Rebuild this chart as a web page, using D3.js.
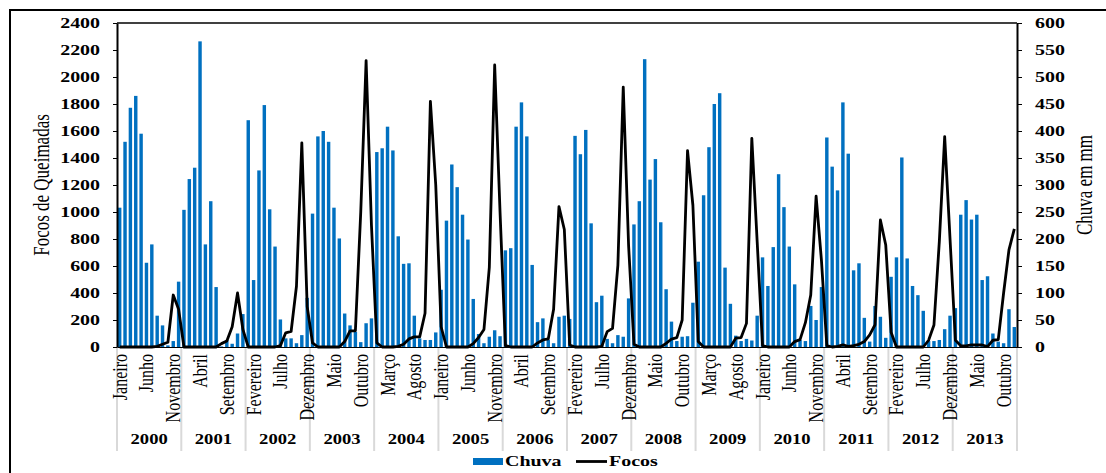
<!DOCTYPE html>
<html><head><meta charset="utf-8">
<script src="https://cdn.jsdelivr.net/npm/d3@7/dist/d3.min.js"></script>
<style>body{margin:0;background:#fff}svg{display:block}</style>
</head><body>
<svg id="chart" width="1106" height="473"></svg>
<script>
const years = [2000,2001,2002,2003,2004,2005,2006,2007,2008,2009,2010,2011,2012,2013];
const monthNames = ["Janeiro","Fevereiro","Março","Abril","Maio","Junho","Julho","Agosto","Setembro","Outubro","Novembro","Dezembro"];
const leftTicks = [0,200,400,600,800,1000,1200,1400,1600,1800,2000,2200,2400];
const rightTicks = [0,50,100,150,200,250,300,350,400,450,500,550,600];
// Chuva (mm), monthly Jan..Dec per year
const chuva = [
  258,380,443,465,395,156,190,58,40,3,11,121,      // 2000
  254,311,332,566,190,270,111,1,13,6,25,61,        // 2001
  420,124,327,448,255,186,51,16,16,7,22,91,        // 2002
  247,390,400,380,258,201,62,40,28,9,44,53,        // 2003
  361,368,408,364,205,154,155,58,16,13,13,27,      // 2004
  106,234,338,296,245,199,89,24,7,19,31,20,        // 2005
  179,183,408,453,390,152,46,53,13,7,56,58,        // 2006
  52,391,357,402,229,83,95,15,7,22,19,90,          // 2007
  227,270,533,310,348,231,107,47,11,19,20,82,      // 2008
  158,281,370,450,470,147,80,21,11,15,12,58,       // 2009
  166,113,185,320,259,186,116,13,11,76,50,111,     // 2010
  388,334,290,453,358,142,155,54,10,76,56,17,      // 2011
  130,166,351,164,113,96,67,11,11,13,33,58,        // 2012
  72,245,272,236,245,124,131,25,10,7,70,37         // 2013
];
// Focos de queimadas, monthly Jan..Dec per year
const focos = [
  0,0,0,0,0,0,0,5,20,35,385,280,                   // 2000
  0,0,0,0,0,0,0,25,45,150,400,130,                 // 2001
  0,0,0,0,0,0,10,105,115,450,1512,300,             // 2002
  30,0,0,0,0,0,40,120,120,1000,2121,900,           // 2003
  30,0,0,0,5,20,60,75,75,250,1820,1200,            // 2004
  150,0,0,0,0,0,25,70,130,590,2089,1000,           // 2005
  10,0,0,0,0,0,30,52,60,280,1040,870,              // 2006
  15,0,0,0,0,0,5,114,138,607,1925,750,             // 2007
  20,0,0,0,0,0,27,59,69,200,1455,1050,             // 2008
  40,0,0,0,0,0,0,65,70,175,1546,780,               // 2009
  10,0,0,0,0,0,40,55,180,385,1118,640,             // 2010
  10,0,5,15,5,10,20,40,90,165,941,755,             // 2011
  110,0,0,0,0,0,0,50,163,780,1558,800,             // 2012
  50,10,8,15,15,15,3,50,55,400,720,875             // 2013
];

const FONT = "'Liberation Serif','Times New Roman',serif";
const SX = 1.33; // horizontal stretch of the original picture's text
const svg = d3.select("#chart");

// outer frame
svg.append("rect").attr("x",10).attr("y",10).attr("width",1130).attr("height",520)
  .attr("fill","none").attr("stroke","#000").attr("stroke-width",2);

const L = 117, R = 1017, T = 23, B = 347;
const idx = d3.range(chuva.length);
const x = d3.scaleBand().domain(idx).range([L,R]).paddingInner(0.36).paddingOuter(0.18);
const yL = d3.scaleLinear().domain([0,2400]).range([B,T]);
const yR = d3.scaleLinear().domain([0,600]).range([B,T]);

// bars
svg.append("g").selectAll("rect").data(idx).join("rect")
  .attr("x", i => x(i)).attr("width", x.bandwidth())
  .attr("y", i => yR(chuva[i])).attr("height", i => B - yR(chuva[i]))
  .attr("fill","#0070C0");

// year separators + labels
const step = x.step();
const gY = svg.append("g");
d3.range(years.length+1).forEach(k => {
  const bx = L + k*12*step;
  gY.append("line").attr("x1",bx).attr("x2",bx).attr("y1",B).attr("y2",451)
    .attr("stroke","#d9d9d9").attr("stroke-width",2);
});
years.forEach((yr,k) => {
  const cx = L + (k*12+6)*step;
  gY.append("text").attr("transform",`translate(${cx},444) scale(${SX},1)`)
    .attr("text-anchor","middle").attr("font-family",FONT).attr("font-weight","bold")
    .attr("font-size",14).text(yr);
});

// line
const line = d3.line().x(i => x(i)+x.bandwidth()/2).y(i => yL(focos[i]));
svg.append("path").datum(idx).attr("d",line).attr("fill","none")
  .attr("stroke","#000").attr("stroke-width",2.8).attr("stroke-linejoin","round");

// plot top border
svg.append("line").attr("x1",L).attr("x2",R).attr("y1",T).attr("y2",T)
  .attr("stroke","#000").attr("stroke-width",1.5);

// bottom axis
const gx = svg.append("g").attr("transform",`translate(0,${B})`)
  .call(d3.axisBottom(x).tickValues(idx.filter(i => i%5===0))
    .tickFormat(i => monthNames[i%12]).tickSize(0).tickPadding(0));
gx.select(".domain").attr("stroke","#000").attr("stroke-width",1.2);
gx.selectAll("text").attr("font-family",FONT).attr("font-size",16).attr("fill","#000")
  .attr("text-anchor","end").attr("x",-7).attr("y",0).attr("dy","0.33em")
  .attr("transform",`scale(${SX},1) rotate(-90)`);

// left axis
const gl = svg.append("g").attr("transform",`translate(${L},0)`)
  .call(d3.axisLeft(yL).tickValues(leftTicks).tickFormat(d3.format("d")).tickSize(4).tickSizeOuter(0));
gl.select(".domain").attr("stroke","#000").attr("stroke-width",2);
gl.selectAll(".tick line").attr("stroke","#000");
gl.selectAll("text").attr("font-family",FONT).attr("font-weight","bold").attr("font-size",15)
  .attr("fill","#000").attr("x",-17/SX).attr("transform",`scale(${SX},1)`);

// right axis
const gr = svg.append("g").attr("transform",`translate(${R},0)`)
  .call(d3.axisRight(yR).tickValues(rightTicks).tickFormat(d3.format("d")).tickSize(5).tickSizeOuter(0));
gr.select(".domain").attr("stroke","#000").attr("stroke-width",2);
gr.selectAll(".tick line").attr("stroke","#000");
gr.selectAll("text").attr("font-family",FONT).attr("font-weight","bold").attr("font-size",15)
  .attr("fill","#000").attr("x",18/SX).attr("transform",`scale(${SX},1)`);

// axis titles
svg.append("text").attr("transform",`translate(49,185) scale(${SX},1) rotate(-90)`)
  .attr("text-anchor","middle").attr("font-family",FONT).attr("font-size",17).text("Focos de Queimadas");
svg.append("text").attr("transform",`translate(1092,185) scale(${SX},1) rotate(-90)`)
  .attr("text-anchor","middle").attr("font-family",FONT).attr("font-size",17).text("Chuva em mm");

// legend
const lg = svg.append("g");
lg.append("rect").attr("x",473).attr("y",458).attr("width",30).attr("height",7).attr("fill","#0070C0");
lg.append("text").attr("transform",`translate(505,466) scale(${SX},1)`).attr("font-family",FONT)
  .attr("font-weight","bold").attr("font-size",15).text("Chuva");
lg.append("line").attr("x1",576).attr("x2",607).attr("y1",461.5).attr("y2",461.5)
  .attr("stroke","#000").attr("stroke-width",2.8);
lg.append("text").attr("transform",`translate(609,466) scale(${SX},1)`).attr("font-family",FONT)
  .attr("font-weight","bold").attr("font-size",15).text("Focos");
</script>
</body></html>
